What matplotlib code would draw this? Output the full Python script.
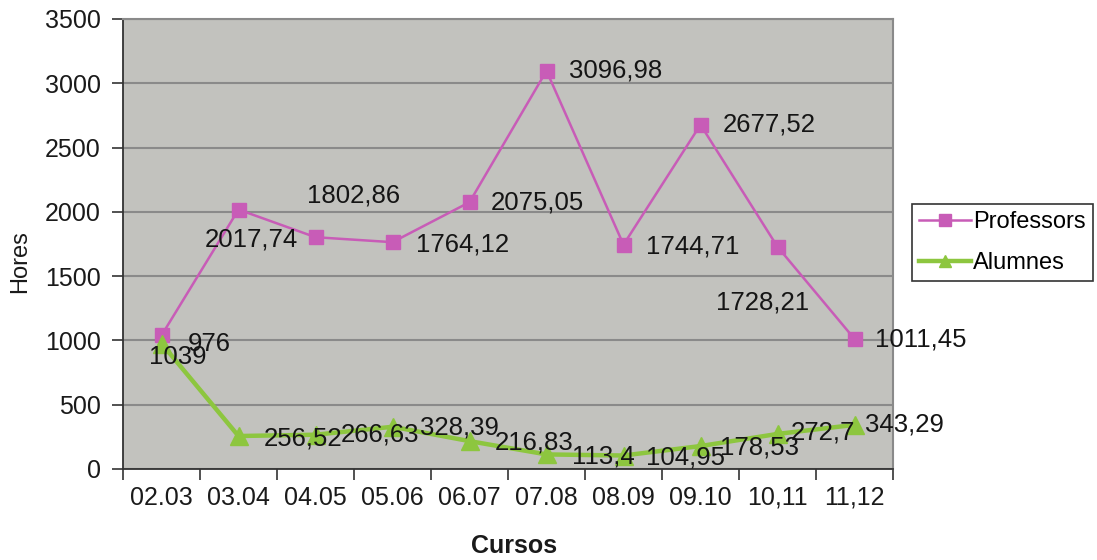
import matplotlib.pyplot as plt
from matplotlib.ticker import FixedLocator

plt.rcParams["font.family"] = ["Liberation Sans", "DejaVu Sans"]

# data
CURSOS = ["02.03", "03.04", "04.05", "05.06", "06.07", "07.08", "08.09", "09.10", "10,11", "11,12"]
PROFESSORS = [1039, 2017.74, 1802.86, 1764.12, 2075.05, 3096.98, 1744.71, 2677.52, 1728.21, 1011.45]
ALUMNES = [976, 256.52, 266.63, 328.39, 216.83, 113.4, 104.95, 178.53, 272.7, 343.29]
PROF_LABELS = ["1039", "2017,74", "1802,86", "1764,12", "2075,05", "3096,98", "1744,71", "2677,52", "1728,21", "1011,45"]
ALUM_LABELS = ["976", "256,52", "266,63", "328,39", "216,83", "113,4", "104,95", "178,53", "272,7", "343,29"]

# label placement (pixel offsets from the point, ha)
PROF_OFFSETS = [(16, -22, "center"), (13, -30, "center"), (38, 42, "center"),
                (23, -2, "left"), (21, 0, "left"), (22, 0, "left"),
                (22, -2, "left"), (22, 0, "left"), (-15, -56, "center"),
                (20, -1, "left")]
ALUM_OFFSETS = [(26, 0), (25, -2), (25, 0), (27, -1), (25, -1),
                (26, -2), (22, -2), (19, -1), (13, 1), (10, 0)]

PINK = "#C85CB7"
GREEN = "#8DC63F"
PX = 0.72  # px -> points at dpi 100
FS = 18.5

fig = plt.figure(figsize=(10.97, 5.6), dpi=100)
ax = fig.add_axes([123 / 1097, 1 - 469 / 560, 770 / 1097, 450 / 560])
ax.set_facecolor("#C2C2BE")

x = list(range(len(CURSOS)))
ax.plot(x, PROFESSORS, color=PINK, linewidth=1.8, marker="s", markersize=10,
        markerfacecolor=PINK, markeredgecolor=PINK, label="Professors", zorder=3)
ax.plot(x, ALUMNES, color=GREEN, linewidth=3.2, marker="^", markersize=13,
        markerfacecolor=GREEN, markeredgecolor=GREEN, label="Alumnes", zorder=3)

for xi, yi, txt, (dx, dy, ha) in zip(x, PROFESSORS, PROF_LABELS, PROF_OFFSETS):
    ax.annotate(txt, (xi, yi), xytext=(dx * PX, dy * PX), textcoords="offset points",
                ha=ha, va="center", fontsize=FS, color="#151515", zorder=4)
for xi, yi, txt, (dx, dy) in zip(x, ALUMNES, ALUM_LABELS, ALUM_OFFSETS):
    ax.annotate(txt, (xi, yi), xytext=(dx * PX, dy * PX), textcoords="offset points",
                ha="left", va="center", fontsize=FS, color="#151515", zorder=4)

ax.set_xlim(-0.5, len(CURSOS) - 0.5)
ax.set_ylim(0, 3500)
ax.set_yticks(range(0, 3501, 500))
ax.set_yticklabels([str(v) for v in range(0, 3501, 500)], fontsize=18, color="#1a1a1a")
ax.set_xticks(x)
ax.set_xticklabels(CURSOS, fontsize=18, color="#1a1a1a")
ax.xaxis.set_minor_locator(FixedLocator([i - 0.5 for i in range(len(CURSOS) + 1)]))
ax.tick_params(axis="x", which="major", length=0, pad=12)
ax.tick_params(axis="x", which="minor", length=8, width=1.2, color="#333333")
ax.tick_params(axis="y", length=8, width=1.2, color="#333333", pad=8)

ax.grid(True, axis="y", color="#8a8a8a", linewidth=1.5)
ax.set_axisbelow(True)

for side in ["top", "right"]:
    ax.spines[side].set_color("#8a8a8a")
    ax.spines[side].set_linewidth(1.5)
for side in ["left", "bottom"]:
    ax.spines[side].set_color("#333333")
    ax.spines[side].set_linewidth(1.3)

fig.text(20 / 1097, 1 - 262 / 560, "Hores", rotation=90, ha="center", va="center",
         fontsize=17, color="#1a1a1a")
fig.text(514 / 1097, 1 - 546 / 560, "Cursos", ha="center", va="center",
         fontsize=18, fontweight="bold", color="#1a1a1a")

leg = fig.legend(loc="upper left", bbox_to_anchor=(912 / 1097, 1 - 204 / 560),
                 fontsize=17, frameon=True, fancybox=False, framealpha=1,
                 edgecolor="#333333", handlelength=2.2, handletextpad=0.1,
                 borderpad=0.3, labelspacing=0.8, borderaxespad=0)
leg.get_frame().set_linewidth(1.2)
for h in leg.legend_handles:
    h.set_markersize(9)

fig.savefig("out.png", dpi=100)
